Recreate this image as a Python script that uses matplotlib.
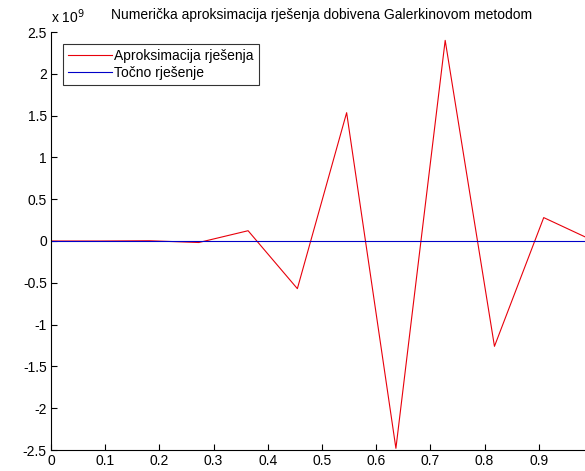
import matplotlib
matplotlib.use('agg')
import matplotlib.pyplot as plt
import numpy as np

# Galerkin approximation at the nodes x = k/11, and the exact solution (zero)
nodes = np.arange(12) / 11.0
approx = [0.0, 0.0, 3e6, -1.8e7, 1.23e8, -5.7e8, 1.535e9, -2.48e9,
          2.40e9, -1.26e9, 2.8e8, 5e6]
exact_x = [0.0, 1.0]
exact_y = [0.0, 0.0]

# the picture is cropped on the right, the "1" label falls outside it
xticks = [0, 0.1, 0.2, 0.3, 0.4, 0.5, 0.6, 0.7, 0.8, 0.9]
xticklabels = ['0', '0.1', '0.2', '0.3', '0.4', '0.5', '0.6', '0.7', '0.8', '0.9']
yticks = [-2.5, -2, -1.5, -1, -0.5, 0, 0.5, 1, 1.5, 2, 2.5]
yticklabels = ['-2.5', '-2', '-1.5', '-1', '-0.5', '0', '0.5', '1', '1.5', '2', '2.5']
scale = 1e9

plt.rcParams['font.family'] = ['Liberation Sans', 'DejaVu Sans']

fig = plt.figure(figsize=(5.85, 4.71), dpi=100)
# axes run past the right edge, like the cropped original
ax = fig.add_axes([51 / 585, 21 / 471, 542 / 585, 418 / 471])

ax.plot(nodes, np.array(approx) / scale, color='#e8000b', lw=0.8,
        label='Aproksimacija rješenja')
ax.plot(exact_x, exact_y, color='#0000c8', lw=0.8, label='Točno rješenje')

ax.set_xlim(0, 1)
ax.set_ylim(-2.5, 2.5)
ax.set_xticks(xticks)
ax.set_xticklabels(xticklabels)
ax.set_yticks(yticks)
ax.set_yticklabels(yticklabels)
ax.tick_params(direction='in', length=4, width=0.8, labelsize=10, pad=3)
for s in ['top', 'right']:
    ax.spines[s].set_visible(False)
for s in ['left', 'bottom']:
    ax.spines[s].set_linewidth(0.8)

ax.set_title('Numerička aproksimacija rješenja dobivena Galerkinovom metodom',
             fontsize=10, pad=9)
ax.text(0.0, 1.015, r'x 10$^{9}$', transform=ax.transAxes, fontsize=10,
        ha='left', va='bottom')

leg = ax.legend(loc='upper left', bbox_to_anchor=(12 / 542, 1 - 12 / 418),
                fontsize=10, frameon=True, fancybox=False, borderpad=0.35,
                handlelength=3.2, handletextpad=0.15, labelspacing=0.2,
                borderaxespad=0)
leg.get_frame().set_edgecolor('black')
leg.get_frame().set_linewidth(0.8)

plt.savefig('out.png', dpi=100)
plt.close()
